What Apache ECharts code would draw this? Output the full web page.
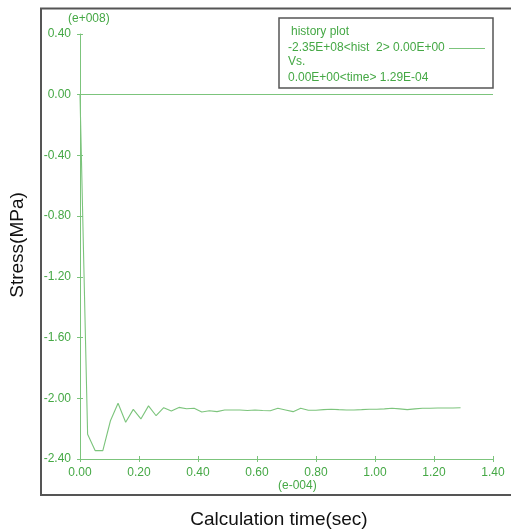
<!DOCTYPE html>
<html>
<head>
<meta charset="utf-8">
<script src="https://cdn.jsdelivr.net/npm/echarts@6/dist/echarts.min.js"></script>
<style>
  html, body { margin: 0; padding: 0; background: #fff; }
  #chart { width: 511px; height: 532px; }
</style>
</head>
<body>
<div id="chart"></div>
<script>
// History record: time (x 1e-4 s) and stress (x 1e8)
const times = [
  0.0000, 0.0258, 0.0516, 0.0774, 0.1032, 0.1290, 0.1548, 0.1806, 0.2064, 0.2322,
  0.2580, 0.2838, 0.3096, 0.3354, 0.3612, 0.3870, 0.4128, 0.4386, 0.4644, 0.4902,
  0.5160, 0.5418, 0.5676, 0.5934, 0.6192, 0.6450, 0.6708, 0.6966, 0.7224, 0.7482,
  0.7740, 0.7998, 0.8256, 0.8514, 0.8772, 0.9030, 0.9288, 0.9546, 0.9804, 1.0062,
  1.0320, 1.0578, 1.0836, 1.1094, 1.1352, 1.1610, 1.1868, 1.2126, 1.2384, 1.2642,
  1.2900
];
const stress = [
  0.000, -2.237, -2.345, -2.345, -2.148, -2.033, -2.158, -2.073, -2.136, -2.050,
  -2.115, -2.062, -2.084, -2.060, -2.069, -2.066, -2.090, -2.082, -2.088, -2.077,
  -2.077, -2.077, -2.080, -2.077, -2.080, -2.082, -2.066, -2.077, -2.088, -2.066,
  -2.079, -2.079, -2.075, -2.072, -2.075, -2.077, -2.077, -2.075, -2.072, -2.072,
  -2.070, -2.066, -2.070, -2.075, -2.070, -2.066, -2.066, -2.064, -2.064, -2.064,
  -2.062
];
const zeroLevel = 0.0;

const legendLines = [
  'history plot',
  '-2.35E+08<hist  2> 0.00E+00',
  'Vs.',
  '0.00E+00<time> 1.29E-04'
];

const xMin = 0, xMax = 1.4, xStep = 0.2;
const yMin = -2.4, yMax = 0.4, yStep = 0.4;

const textGreen = '#45a845';
const lineGreen = '#7cc47c';
const frameGray = '#555555';
const font = '"Liberation Sans", Arial, sans-serif';

const chart = echarts.init(document.getElementById('chart'), null, { renderer: 'canvas' });

const fmt = v => v.toFixed(2);

chart.setOption({
  animation: false,
  backgroundColor: '#ffffff',
  grid: { left: 80, right: 18, top: 34, bottom: 73, containLabel: false },
  xAxis: [
    {
      type: 'value', min: xMin, max: xMax, interval: xStep, position: 'bottom',
      axisLine: { onZero: false, lineStyle: { color: lineGreen, width: 1 } },
      axisTick: { show: true, length: 3, lineStyle: { color: lineGreen } },
      axisLabel: { color: textGreen, fontSize: 12, fontFamily: font, margin: 8, formatter: fmt },
      splitLine: { show: false }
    },
    {
      type: 'value', min: xMin, max: xMax, interval: xStep, position: 'bottom',
      axisLine: { show: false, onZero: false },
      axisTick: { show: true, inside: true, length: 3, lineStyle: { color: lineGreen } },
      axisLabel: { show: false },
      splitLine: { show: false }
    }
  ],
  yAxis: [
    {
      type: 'value', min: yMin, max: yMax, interval: yStep, position: 'left',
      axisLine: { show: true, onZero: false, lineStyle: { color: lineGreen, width: 1 } },
      axisTick: { show: true, length: 3, lineStyle: { color: lineGreen } },
      axisLabel: { color: textGreen, fontSize: 12, fontFamily: font, margin: 9, formatter: fmt },
      splitLine: { show: false }
    },
    {
      type: 'value', min: yMin, max: yMax, interval: yStep, position: 'left',
      axisLine: { show: false, onZero: false },
      axisTick: { show: true, inside: true, length: 3, lineStyle: { color: lineGreen } },
      axisLabel: { show: false },
      splitLine: { show: false }
    }
  ],
  series: [
    {
      type: 'line',
      xAxisIndex: 0, yAxisIndex: 0,
      data: times.map((t, i) => [t, stress[i]]),
      showSymbol: false,
      lineStyle: { color: lineGreen, width: 1.1 },
      markLine: {
        silent: true,
        symbol: 'none',
        label: { show: false },
        lineStyle: { color: lineGreen, width: 1, type: 'solid' },
        data: [{ yAxis: zeroLevel }]
      }
    }
  ],
  graphic: [
    // outer frame
    {
      type: 'rect', shape: { x: 41, y: 8.5, width: 480, height: 486.5 },
      style: { fill: 'none', stroke: frameGray, lineWidth: 2 }, z: 100
    },
    // legend box
    {
      type: 'rect', shape: { x: 279, y: 18, width: 214, height: 70 },
      style: { fill: '#ffffff', stroke: frameGray, lineWidth: 1.5 }, z: 100
    },
    { type: 'text', left: 291, top: 26, z: 101,
      style: { text: legendLines[0], fill: textGreen, font: '12px ' + font } },
    { type: 'text', left: 288, top: 42, z: 101,
      style: { text: legendLines[1], fill: textGreen, font: '12px ' + font } },
    { type: 'text', left: 288, top: 56, z: 101,
      style: { text: legendLines[2], fill: textGreen, font: '12px ' + font } },
    { type: 'text', left: 288, top: 72, z: 101,
      style: { text: legendLines[3], fill: textGreen, font: '12px ' + font } },
    { type: 'line', z: 101, shape: { x1: 449, y1: 48.5, x2: 485, y2: 48.5 },
      style: { stroke: lineGreen, lineWidth: 1 } },
    // axis exponents
    { type: 'text', left: 68, top: 13, z: 101,
      style: { text: '(e+008)', fill: textGreen, font: '12px ' + font } },
    { type: 'text', left: 278, top: 480, z: 101,
      style: { text: '(e-004)', fill: textGreen, font: '12px ' + font } },
    // axis titles
    { type: 'text', z: 101, x: 279, y: 520,
      style: { text: 'Calculation time(sec)', fill: '#111', font: '19px ' + font,
               align: 'center', verticalAlign: 'middle' } },
    { type: 'text', z: 101, x: 18, y: 245, rotation: Math.PI / 2,
      style: { text: 'Stress(MPa)', fill: '#111', font: '19px ' + font,
               align: 'center', verticalAlign: 'middle' } }
  ]
});
</script>
</body>
</html>
